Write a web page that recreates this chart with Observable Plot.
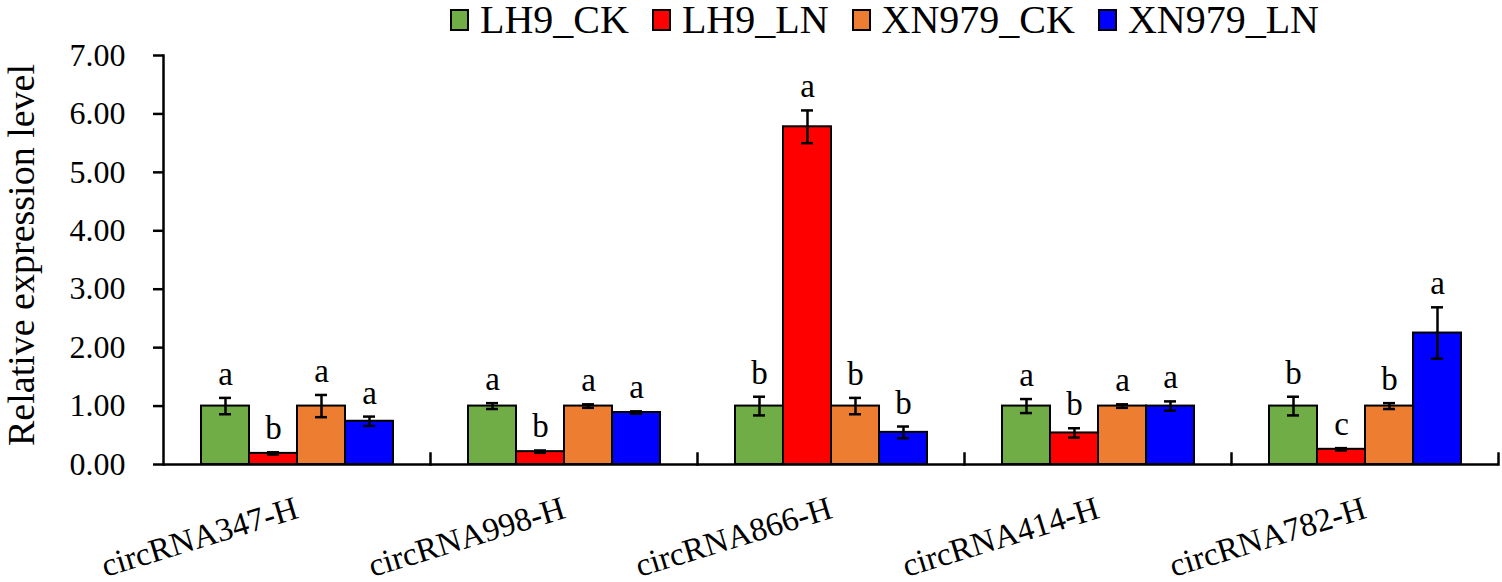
<!DOCTYPE html>
<html>
<head>
<meta charset="utf-8">
<script src="https://cdn.jsdelivr.net/npm/d3@7"></script>
<script src="https://cdn.jsdelivr.net/npm/@observablehq/plot@0.6"></script>
<style>
  html, body { margin: 0; padding: 0; background: #fff; }
  body { width: 1502px; height: 582px; overflow: hidden; font-family: "Liberation Serif", "DejaVu Serif", serif; position: relative; }
  #legend { height: 30px; display: flex; align-items: flex-start; padding-left: 450px; font-family: "Liberation Serif", "DejaVu Serif", serif; font-size: 40px; line-height: 40px; color: #000; overflow: visible; }
  #legend .item { display: flex; align-items: center; margin-right: 23px; height: 40px; }
  #legend .sw { width: 15px; height: 18px; border: 2px solid #000; margin-right: 11px; margin-top: -1px; }
  #chart svg { display: block; }
</style>
</head>
<body>
<div id="legend"></div>
<div id="chart"></div>
<script>
const groups = ["circRNA347-H", "circRNA998-H", "circRNA866-H", "circRNA414-H", "circRNA782-H"];
const series = ["LH9_CK", "LH9_LN", "XN979_CK", "XN979_LN"];
const colors = ["#70AD47", "#FF0000", "#ED7D31", "#0000FF"];
const yTicks = [0, 1, 2, 3, 4, 5, 6, 7];
const yTitle = "Relative expression level";

const valLH9_CK   = [1.00, 1.00, 1.00, 1.00, 1.00];
const valLH9_LN   = [0.19, 0.22, 5.78, 0.54, 0.26];
const valXN979_CK = [1.00, 1.00, 1.00, 1.00, 1.00];
const valXN979_LN = [0.74, 0.89, 0.55, 1.00, 2.25];

const errLH9_CK   = [0.14, 0.05, 0.16, 0.12, 0.16];
const errLH9_LN   = [0.02, 0.02, 0.28, 0.08, 0.02];
const errXN979_CK = [0.19, 0.03, 0.14, 0.03, 0.05];
const errXN979_LN = [0.08, 0.02, 0.10, 0.08, 0.44];

const letLH9_CK   = ["a", "a", "b", "a", "b"];
const letLH9_LN   = ["b", "b", "a", "b", "c"];
const letXN979_CK = ["a", "a", "b", "a", "b"];
const letXN979_LN = ["a", "a", "b", "a", "a"];

const values = [valLH9_CK, valLH9_LN, valXN979_CK, valXN979_LN];
const errors = [errLH9_CK, errLH9_LN, errXN979_CK, errXN979_LN];
const letters = [letLH9_CK, letLH9_LN, letXN979_CK, letXN979_LN];

const data = [];
groups.forEach((g, i) => {
  series.forEach((s, j) => {
    data.push({group: g, series: s, value: values[j][i], err: errors[j][i], letter: letters[j][i]});
  });
});

// legend
const legend = document.getElementById("legend");
series.forEach((s, j) => {
  const it = document.createElement("div");
  it.className = "item";
  const sw = document.createElement("div");
  sw.className = "sw";
  sw.style.background = colors[j];
  const tx = document.createElement("span");
  tx.textContent = s;
  it.appendChild(sw);
  it.appendChild(tx);
  legend.appendChild(it);
});

const W = 1502, H = 552, mT = 25, mB = 118, mL = 163, mR = 4;
const innerH = H - mT - mB;
const font = "'Liberation Serif', 'DejaVu Serif', serif";

const chart = Plot.plot({
  width: W,
  height: H,
  marginTop: mT,
  marginBottom: mB,
  marginLeft: mL,
  marginRight: mR,
  style: {fontFamily: font, color: "#000", background: "#fff", overflow: "visible"},
  fx: {domain: groups, padding: 0},
  x: {domain: series, paddingInner: 0, paddingOuter: 0.75, axis: null},
  y: {domain: [0, 7], axis: null},
  color: {domain: series, range: colors},
  marks: [
    Plot.barY(data, {fx: "group", x: "series", y: "value", fill: "series", stroke: "#000", strokeWidth: 2}),
    Plot.ruleX(data, {fx: "group", x: "series", y1: d => d.value - d.err, y2: d => d.value + d.err, stroke: "#000", strokeWidth: 2.5}),
    Plot.tickY(data, {fx: "group", x: "series", y: d => d.value + d.err, inset: 18, stroke: "#000", strokeWidth: 2.5}),
    Plot.tickY(data, {fx: "group", x: "series", y: d => d.value - d.err, inset: 18, stroke: "#000", strokeWidth: 2.5}),
    Plot.text(data, {fx: "group", x: "series", y: d => d.value + d.err, text: "letter", lineAnchor: "bottom", dy: -13, fontSize: 33, fontFamily: font, fill: "#000"}),
    Plot.ruleY([0], {stroke: "#000", strokeWidth: 2.5}),
    Plot.frame({anchor: "right", insetTop: innerH - 11, stroke: "#000", strokeWidth: 2.5}),
    Plot.frame({anchor: "left", facetAnchor: "left", stroke: "#000", strokeWidth: 2.5}),
    Plot.axisY({ticks: yTicks, tickFormat: d3.format(".2f"), tickSize: 10, tickPadding: 28, fontSize: 32, fontFamily: font, fontVariant: "normal", strokeWidth: 2.5, label: null}),
    Plot.text([yTitle], {frameAnchor: "left", facetAnchor: "left", textAnchor: "middle", rotate: -90, dx: -142, dy: -5, fontSize: 38, fontFamily: font, fill: "#000"}),
    Plot.axisFx({anchor: "bottom", tickRotate: -17, tickSize: 0, tickPadding: 43, fontSize: 33, fontFamily: font, label: null})
  ]
});
document.getElementById("chart").appendChild(chart);
</script>
</body>
</html>
